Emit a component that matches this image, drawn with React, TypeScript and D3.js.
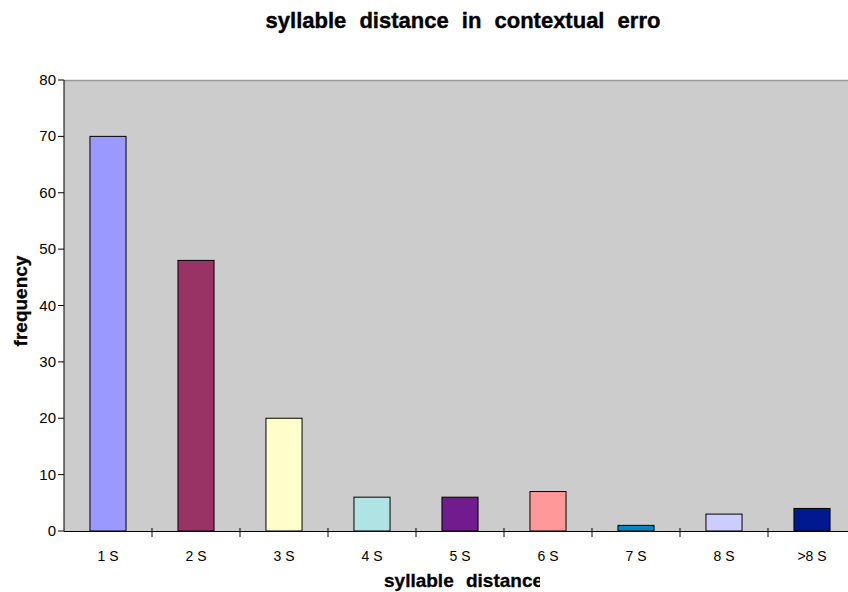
import React from "react";
import * as d3 from "d3";

const categories = ["1 S", "2 S", "3 S", "4 S", "5 S", "6 S", "7 S", "8 S", ">8 S"];
const values = [70, 48, 20, 6, 6, 7, 1, 3, 4];
const colors = ["#9999FF", "#993366", "#FFFFCC", "#B0E4E4", "#701C8E", "#FF9999", "#0088C0", "#CCCCFF", "#001890"];
const yTicks = [0, 10, 20, 30, 40, 50, 60, 70, 80];

const W = 848;
const H = 592;
const left = 64;
const top = 80;
const bottom = 531;
const step = 88;

export default function App() {
  const x = d3.scaleBand<string>().domain(categories).range([left, left + step * categories.length]).padding(0);
  const y = d3.scaleLinear().domain([0, 80]).range([bottom, top]);
  const bw = x.bandwidth() * 0.41;
  const font = "'Liberation Sans', Arial, Helvetica, sans-serif";
  return (
    <svg width={W} height={H} style={{ position: "absolute", left: 0, top: 0 }} fontFamily={font}>
      <defs>
        <clipPath id="xlabclip">
          <rect x={0} y={540} width={540} height={52} />
        </clipPath>
      </defs>
      <rect x={0} y={0} width={W} height={H} fill="#fff" />
      <text x={463} y={28} textAnchor="middle" fontSize={22} fontWeight="bold" wordSpacing={7} stroke="#000" strokeWidth={0.4}>
        syllable distance in contextual erro
      </text>
      <rect x={left} y={top} width={W - left} height={bottom - top} fill="#CCCCCC" />
      <line x1={left} x2={W} y1={top + 0.5} y2={top + 0.5} stroke="#999" strokeWidth={1.5} />
      {categories.map((c, i) => {
        const cx = (x(c) as number) + x.bandwidth() / 2;
        return (
          <rect
            key={c}
            x={cx - bw / 2}
            y={y(values[i])}
            width={bw}
            height={y(0) - y(values[i])}
            fill={colors[i]}
            stroke="#000"
            strokeWidth={1}
          />
        );
      })}
      <line x1={left} x2={left} y1={top} y2={bottom} stroke="#000" strokeWidth={1} />
      <line x1={left} x2={W} y1={bottom + 0.5} y2={bottom + 0.5} stroke="#000" strokeWidth={1} />
      {yTicks.map((t) => (
        <g key={t}>
          <line x1={left - 6} x2={left} y1={y(t)} y2={y(t)} stroke="#000" />
          <text x={56} y={y(t) + 5} textAnchor="end" fontSize={15}>
            {t}
          </text>
        </g>
      ))}
      {categories.map((c, i) => (
        <g key={c}>
          {i > 0 && <line x1={x(c)} x2={x(c)} y1={bottom - 3} y2={bottom + 6} stroke="#000" />}
          <text x={(x(c) as number) + x.bandwidth() / 2} y={561} textAnchor="middle" fontSize={14}>
            {c}
          </text>
        </g>
      ))}
      <g clipPath="url(#xlabclip)">
        <text x={384} y={587} textAnchor="start" fontSize={19} fontWeight="bold" wordSpacing={7} stroke="#000" strokeWidth={0.3}>
          syllable distance
        </text>
      </g>
      <text
        transform={`translate(27,301) rotate(-90)`}
        textAnchor="middle"
        fontSize={19}
        fontWeight="bold"
        stroke="#000"
        strokeWidth={0.3}
      >
        frequency
      </text>
    </svg>
  );
}
